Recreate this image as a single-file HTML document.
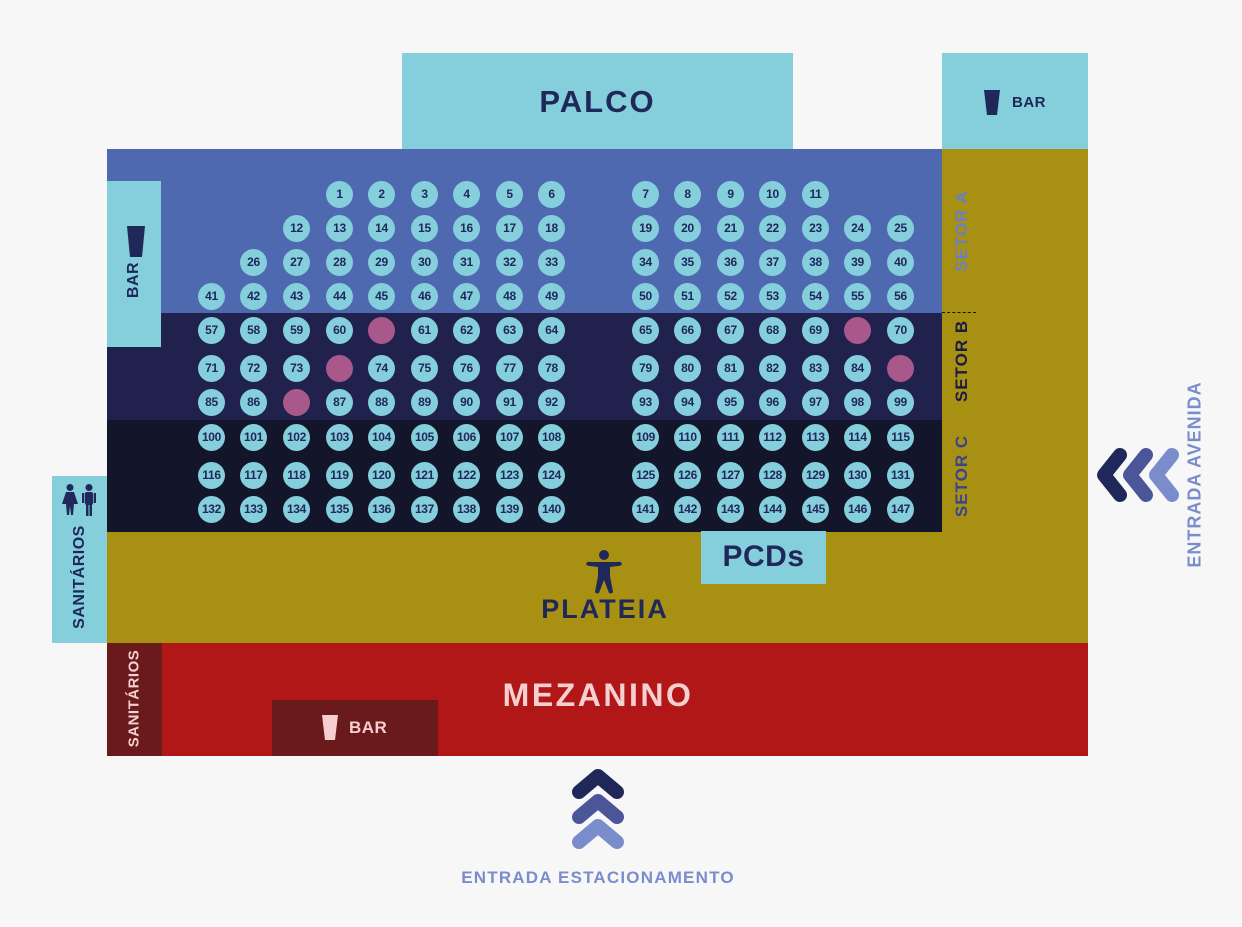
<!DOCTYPE html>
<html><head><meta charset="utf-8">
<style>
*{margin:0;padding:0;box-sizing:border-box}
body{width:1242px;height:927px;background:#f7f7f7;position:relative;overflow:hidden;font-family:"Liberation Sans",Arial,sans-serif;font-weight:bold}
.a{position:absolute}
.s{position:absolute;width:27px;height:27px;border-radius:50%;background:#85cedb;color:#20285a;font-size:12px;line-height:27px;text-align:center;letter-spacing:-0.3px}
.p{background:#a8588a}
.v{position:absolute;transform:rotate(-90deg);transform-origin:center;white-space:nowrap;text-align:center}
</style></head><body>
<div class="a" style="left:402px;top:53px;width:391px;height:97px;background:#85cedb"></div>
<div class="a" style="left:402px;top:84px;width:391px;text-align:center;font-size:31px;color:#20285a;letter-spacing:2px">PALCO</div>
<div class="a" style="left:942px;top:53px;width:146px;height:97px;background:#85cedb"></div>
<svg class="a" style="left:983px;top:90px" width="18" height="25"><polygon points="1,0 17,0 14,25 4,25" fill="#20285a"/></svg>
<div class="a" style="left:1012px;top:94px;font-size:15px;color:#20285a;letter-spacing:0.5px">BAR</div>

<div class="a" style="left:107px;top:149px;width:835px;height:164px;background:#4f69b0"></div>
<div class="a" style="left:107px;top:313px;width:835px;height:107px;background:#20224d"></div>
<div class="a" style="left:107px;top:420px;width:835px;height:112px;background:#13152a"></div>
<div class="a" style="left:942px;top:149px;width:146px;height:494px;background:#a89112"></div>
<div class="a" style="left:107px;top:532px;width:835px;height:111px;background:#a89112"></div>
<div class="a" style="left:942px;top:312px;width:34px;border-top:1px dashed #111"></div>

<div class="v" style="left:902px;top:221px;width:120px;font-size:17px;color:#6a80c4;letter-spacing:1px">SETOR A</div>
<div class="v" style="left:902px;top:351px;width:120px;font-size:17px;color:#1a1c40;letter-spacing:1px">SETOR B</div>
<div class="v" style="left:902px;top:466px;width:120px;font-size:17px;color:#3a4390;letter-spacing:1px">SETOR C</div>

<div class="a" style="left:107px;top:181px;width:54px;height:166px;background:#85cedb"></div>
<svg class="a" style="left:127px;top:226px" width="18" height="31"><polygon points="0,0 18,0 15,31 3,31" fill="#20285a"/></svg>
<div class="v" style="left:104px;top:271px;width:60px;font-size:16px;color:#20285a;letter-spacing:0.5px">BAR</div>

<div class="a" style="left:52px;top:476px;width:55px;height:167px;background:#85cedb"></div>
<svg class="a" style="left:61px;top:484px" width="38" height="32" fill="#20285a">
<circle cx="9" cy="3.5" r="3.5"/><polygon points="5,8 13,8 17,20 13,20 12,31 10,31 9,22 8,31 6,31 5,20 1,20"/>
<circle cx="28" cy="3.5" r="3.5"/><rect x="24" y="8" width="8" height="13" rx="2"/><rect x="25" y="19" width="2.5" height="13"/><rect x="28.5" y="19" width="2.5" height="13"/><rect x="21" y="9" width="2.3" height="10"/><rect x="32.7" y="9" width="2.3" height="10"/></svg>
<div class="v" style="left:20px;top:568px;width:120px;font-size:16px;color:#20285a;letter-spacing:0.5px">SANITÁRIOS</div>

<div class="a" style="left:701px;top:531px;width:125px;height:53px;background:#85cedb"></div>
<div class="a" style="left:701px;top:540px;width:125px;text-align:center;font-size:30px;color:#20285a;letter-spacing:0.5px">PCDs</div>
<svg class="a" style="left:585px;top:550px" width="38" height="44" fill="#20285a">
<circle cx="19" cy="5" r="5"/><path d="M1,14 Q2,11 5,12 L33,12 Q36,11 37,14 Q36,16 33,16 L25,17 L25,26 L28,42 Q27,44 24,43 L19,30 L14,43 Q11,44 10,42 L13,26 L13,17 L5,16 Q2,16 1,14Z"/></svg>
<div class="a" style="left:500px;top:594px;width:210px;text-align:center;font-size:27px;color:#20285a;letter-spacing:2px">PLATEIA</div>

<div class="a" style="left:107px;top:643px;width:981px;height:113px;background:#b01716"></div>
<div class="a" style="left:107px;top:643px;width:55px;height:113px;background:#6b1a1c"></div>
<div class="v" style="left:74px;top:690px;width:120px;font-size:15px;color:#f6d0d0;letter-spacing:0.5px">SANITÁRIOS</div>
<div class="a" style="left:272px;top:700px;width:166px;height:56px;background:#6b1a1c"></div>
<svg class="a" style="left:322px;top:715px" width="16" height="25"><polygon points="0,0 16,0 13,25 3,25" fill="#f6d0d0"/></svg>
<div class="a" style="left:349px;top:718px;font-size:17px;color:#f6d0d0;letter-spacing:0.5px">BAR</div>
<div class="a" style="left:440px;top:677px;width:316px;text-align:center;font-size:32px;color:#f6d0d0;letter-spacing:2.5px">MEZANINO</div>

<svg class="a" style="left:1090px;top:445px" width="95" height="60" fill="none" stroke-linecap="round" stroke-linejoin="round" stroke-width="14">
<polyline points="30,10 14,30 30,50" stroke="#20285a"/>
<polyline points="56,10 40,30 56,50" stroke="#4b559a"/>
<polyline points="82,10 66,30 82,50" stroke="#7b8ccc"/>
</svg>
<div class="v" style="left:1095px;top:464px;width:200px;font-size:18px;color:#7b8ccc;letter-spacing:1px">ENTRADA AVENIDA</div>

<svg class="a" style="left:568px;top:765px" width="60" height="92" fill="none" stroke-linecap="round" stroke-linejoin="round" stroke-width="14">
<polyline points="11,27 30,11 49,27" stroke="#20285a"/>
<polyline points="11,52 30,36 49,52" stroke="#4b559a"/>
<polyline points="11,77 30,61 49,77" stroke="#7b8ccc"/>
</svg>
<div class="a" style="left:380px;top:868px;width:436px;text-align:center;font-size:17px;color:#7b8ccc;letter-spacing:1.2px">ENTRADA ESTACIONAMENTO</div>

<!-- row 1 -->
<div class="s" style="left:326px;top:181px">1</div><div class="s" style="left:368px;top:181px">2</div><div class="s" style="left:411px;top:181px">3</div><div class="s" style="left:453px;top:181px">4</div><div class="s" style="left:496px;top:181px">5</div><div class="s" style="left:538px;top:181px">6</div>
<div class="s" style="left:632px;top:181px">7</div><div class="s" style="left:674px;top:181px">8</div><div class="s" style="left:717px;top:181px">9</div><div class="s" style="left:759px;top:181px">10</div><div class="s" style="left:802px;top:181px">11</div>
<!-- row 2 -->
<div class="s" style="left:283px;top:215px">12</div><div class="s" style="left:326px;top:215px">13</div><div class="s" style="left:368px;top:215px">14</div><div class="s" style="left:411px;top:215px">15</div><div class="s" style="left:453px;top:215px">16</div><div class="s" style="left:496px;top:215px">17</div><div class="s" style="left:538px;top:215px">18</div>
<div class="s" style="left:632px;top:215px">19</div><div class="s" style="left:674px;top:215px">20</div><div class="s" style="left:717px;top:215px">21</div><div class="s" style="left:759px;top:215px">22</div><div class="s" style="left:802px;top:215px">23</div><div class="s" style="left:844px;top:215px">24</div><div class="s" style="left:887px;top:215px">25</div>
<!-- row 3 -->
<div class="s" style="left:240px;top:249px">26</div><div class="s" style="left:283px;top:249px">27</div><div class="s" style="left:326px;top:249px">28</div><div class="s" style="left:368px;top:249px">29</div><div class="s" style="left:411px;top:249px">30</div><div class="s" style="left:453px;top:249px">31</div><div class="s" style="left:496px;top:249px">32</div><div class="s" style="left:538px;top:249px">33</div>
<div class="s" style="left:632px;top:249px">34</div><div class="s" style="left:674px;top:249px">35</div><div class="s" style="left:717px;top:249px">36</div><div class="s" style="left:759px;top:249px">37</div><div class="s" style="left:802px;top:249px">38</div><div class="s" style="left:844px;top:249px">39</div><div class="s" style="left:887px;top:249px">40</div>
<!-- row 4 -->
<div class="s" style="left:198px;top:283px">41</div><div class="s" style="left:240px;top:283px">42</div><div class="s" style="left:283px;top:283px">43</div><div class="s" style="left:326px;top:283px">44</div><div class="s" style="left:368px;top:283px">45</div><div class="s" style="left:411px;top:283px">46</div><div class="s" style="left:453px;top:283px">47</div><div class="s" style="left:496px;top:283px">48</div><div class="s" style="left:538px;top:283px">49</div>
<div class="s" style="left:632px;top:283px">50</div><div class="s" style="left:674px;top:283px">51</div><div class="s" style="left:717px;top:283px">52</div><div class="s" style="left:759px;top:283px">53</div><div class="s" style="left:802px;top:283px">54</div><div class="s" style="left:844px;top:283px">55</div><div class="s" style="left:887px;top:283px">56</div>
<!-- row 5 -->
<div class="s" style="left:198px;top:317px">57</div><div class="s" style="left:240px;top:317px">58</div><div class="s" style="left:283px;top:317px">59</div><div class="s" style="left:326px;top:317px">60</div><div class="s p" style="left:368px;top:317px"></div><div class="s" style="left:411px;top:317px">61</div><div class="s" style="left:453px;top:317px">62</div><div class="s" style="left:496px;top:317px">63</div><div class="s" style="left:538px;top:317px">64</div>
<div class="s" style="left:632px;top:317px">65</div><div class="s" style="left:674px;top:317px">66</div><div class="s" style="left:717px;top:317px">67</div><div class="s" style="left:759px;top:317px">68</div><div class="s" style="left:802px;top:317px">69</div><div class="s p" style="left:844px;top:317px"></div><div class="s" style="left:887px;top:317px">70</div>
<!-- row 6 -->
<div class="s" style="left:198px;top:355px">71</div><div class="s" style="left:240px;top:355px">72</div><div class="s" style="left:283px;top:355px">73</div><div class="s p" style="left:326px;top:355px"></div><div class="s" style="left:368px;top:355px">74</div><div class="s" style="left:411px;top:355px">75</div><div class="s" style="left:453px;top:355px">76</div><div class="s" style="left:496px;top:355px">77</div><div class="s" style="left:538px;top:355px">78</div>
<div class="s" style="left:632px;top:355px">79</div><div class="s" style="left:674px;top:355px">80</div><div class="s" style="left:717px;top:355px">81</div><div class="s" style="left:759px;top:355px">82</div><div class="s" style="left:802px;top:355px">83</div><div class="s" style="left:844px;top:355px">84</div><div class="s p" style="left:887px;top:355px"></div>
<!-- row 7 -->
<div class="s" style="left:198px;top:389px">85</div><div class="s" style="left:240px;top:389px">86</div><div class="s p" style="left:283px;top:389px"></div><div class="s" style="left:326px;top:389px">87</div><div class="s" style="left:368px;top:389px">88</div><div class="s" style="left:411px;top:389px">89</div><div class="s" style="left:453px;top:389px">90</div><div class="s" style="left:496px;top:389px">91</div><div class="s" style="left:538px;top:389px">92</div>
<div class="s" style="left:632px;top:389px">93</div><div class="s" style="left:674px;top:389px">94</div><div class="s" style="left:717px;top:389px">95</div><div class="s" style="left:759px;top:389px">96</div><div class="s" style="left:802px;top:389px">97</div><div class="s" style="left:844px;top:389px">98</div><div class="s" style="left:887px;top:389px">99</div>
<!-- row 8 -->
<div class="s" style="left:198px;top:424px">100</div><div class="s" style="left:240px;top:424px">101</div><div class="s" style="left:283px;top:424px">102</div><div class="s" style="left:326px;top:424px">103</div><div class="s" style="left:368px;top:424px">104</div><div class="s" style="left:411px;top:424px">105</div><div class="s" style="left:453px;top:424px">106</div><div class="s" style="left:496px;top:424px">107</div><div class="s" style="left:538px;top:424px">108</div>
<div class="s" style="left:632px;top:424px">109</div><div class="s" style="left:674px;top:424px">110</div><div class="s" style="left:717px;top:424px">111</div><div class="s" style="left:759px;top:424px">112</div><div class="s" style="left:802px;top:424px">113</div><div class="s" style="left:844px;top:424px">114</div><div class="s" style="left:887px;top:424px">115</div>
<!-- row 9 -->
<div class="s" style="left:198px;top:462px">116</div><div class="s" style="left:240px;top:462px">117</div><div class="s" style="left:283px;top:462px">118</div><div class="s" style="left:326px;top:462px">119</div><div class="s" style="left:368px;top:462px">120</div><div class="s" style="left:411px;top:462px">121</div><div class="s" style="left:453px;top:462px">122</div><div class="s" style="left:496px;top:462px">123</div><div class="s" style="left:538px;top:462px">124</div>
<div class="s" style="left:632px;top:462px">125</div><div class="s" style="left:674px;top:462px">126</div><div class="s" style="left:717px;top:462px">127</div><div class="s" style="left:759px;top:462px">128</div><div class="s" style="left:802px;top:462px">129</div><div class="s" style="left:844px;top:462px">130</div><div class="s" style="left:887px;top:462px">131</div>
<!-- row 10 -->
<div class="s" style="left:198px;top:496px">132</div><div class="s" style="left:240px;top:496px">133</div><div class="s" style="left:283px;top:496px">134</div><div class="s" style="left:326px;top:496px">135</div><div class="s" style="left:368px;top:496px">136</div><div class="s" style="left:411px;top:496px">137</div><div class="s" style="left:453px;top:496px">138</div><div class="s" style="left:496px;top:496px">139</div><div class="s" style="left:538px;top:496px">140</div>
<div class="s" style="left:632px;top:496px">141</div><div class="s" style="left:674px;top:496px">142</div><div class="s" style="left:717px;top:496px">143</div><div class="s" style="left:759px;top:496px">144</div><div class="s" style="left:802px;top:496px">145</div><div class="s" style="left:844px;top:496px">146</div><div class="s" style="left:887px;top:496px">147</div>
</body></html>
